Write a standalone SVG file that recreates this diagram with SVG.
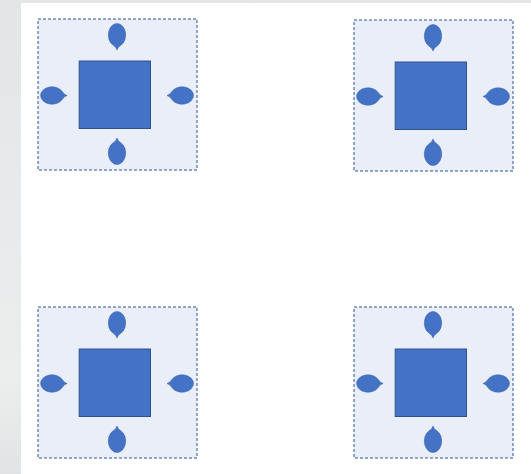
<svg xmlns="http://www.w3.org/2000/svg" xmlns:xlink="http://www.w3.org/1999/xlink" width="531" height="474" viewBox="0 0 531 474">
  <style>
    .frame { fill: #e9eef8; stroke: #2f5597; stroke-width: 1; stroke-dasharray: 3 2; }
    .core { fill: #4472c4; stroke: #2f528f; stroke-width: 1; }
    .petal { fill: #4472c4; stroke: #3a66b5; stroke-width: 0.6; }
  </style>
  <defs>
    <linearGradient id="edge" x1="0" y1="0" x2="0" y2="1">
      <stop offset="0" stop-color="#e4e5e6"/>
      <stop offset="0.5" stop-color="#e9eaeb"/>
      <stop offset="0.8" stop-color="#eceded"/>
      <stop offset="1" stop-color="#e2e3e4"/>
    </linearGradient>
    <!-- oval with a small spike pointing +x, body centred on the origin -->
    <path id="petal" class="petal" d="M -11.5 0 A 11.5 8.8 0 0 1 10.3 -3.8 Q 11.8 -0.8 15 0 Q 11.8 0.8 10.3 3.8 A 11.5 8.8 0 0 1 -11.5 0 Z"/>
    <g id="unit">
      <rect class="frame" x="0.5" y="0.5" width="159" height="151"/>
      <rect class="core" x="41.7" y="42.5" width="71.3" height="67.5"/>
      <use xlink:href="#petal" transform="translate(14.6,77)"/>
      <use xlink:href="#petal" transform="translate(144.5,77) rotate(180)"/>
      <use xlink:href="#petal" transform="translate(79.5,16.5) rotate(90)"/>
      <use xlink:href="#petal" transform="translate(79.5,134.5) rotate(-90)"/>
    </g>
  </defs>

  <!-- backdrop -->
  <rect x="0" y="0" width="531" height="474" fill="url(#edge)"/>
  <rect x="21" y="3" width="510" height="471" fill="#ffffff"/>

  <g id="connectors"/>

  <g id="unit-top-left" transform="translate(37.5,18.5)">
    <use xlink:href="#unit"/>
  </g>
  <g id="unit-top-right" transform="translate(353.5,19.5)">
    <use xlink:href="#unit"/>
  </g>
  <g id="unit-bottom-left" transform="translate(37.5,306.5)">
    <use xlink:href="#unit"/>
  </g>
  <g id="unit-bottom-right" transform="translate(353.5,306.5)">
    <use xlink:href="#unit"/>
  </g>
</svg>
